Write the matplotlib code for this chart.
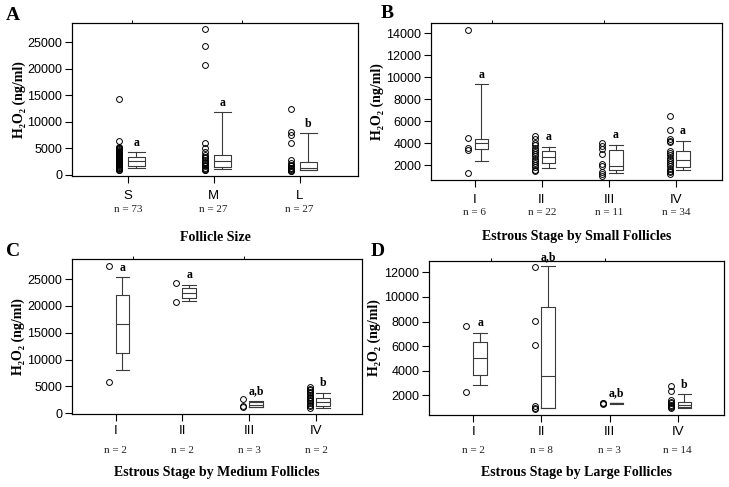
import numpy as np
import matplotlib.pyplot as plt

# ---- Panel A: by follicle size ----
a_cats = ['S', 'M', 'L']
a_n = ['n = 73', 'n = 27', 'n = 27']
a_sig = ['a', 'a', 'b']
# whislo, q1, median, q3, whishi
a_box = [[1400, 1750, 2600, 3450, 4250],
         [1150, 1450, 2600, 3700, 11800],
         [900, 950, 1300, 2400, 7800]]
a_pts = [[14300, 6450, 5300, 5150, 5000, 4850, 4700, 4550, 4400, 4250, 4100, 3950,
          3800, 3650, 3500, 3350, 3200, 3050, 2900, 2750, 2600, 2450, 2300, 2150,
          2000, 1850, 1700, 1550, 1400, 1250, 1100, 950, 850],
         [27500, 24200, 20600, 5950, 5000, 4400, 3800, 3450, 3100, 2800, 2500,
          2200, 1900, 1650, 1400, 1200, 1000, 900],
         [12500, 8100, 7600, 6100, 2800, 2300, 1800, 1600, 1400, 1250, 1100,
          950, 800, 700]]

# ---- Panel B: estrous stage, small follicles ----
b_cats = ['I', 'II', 'III', 'IV']
b_n = ['n = 6', 'n = 22', 'n = 11', 'n = 34']
b_sig = ['a', 'a', 'a', 'a']
b_box = [[2400, 3450, 4000, 4400, 9350],
         [1750, 2250, 2750, 3300, 3700],
         [1330, 1550, 1950, 3350, 3850],
         [1600, 1850, 2500, 3300, 4250]]
b_pts = [[14300, 4450, 3600, 3400, 1300],
         [4650, 4350, 4050, 3800, 3600, 3400, 3200, 3000, 2800, 2600, 2400,
          2200, 2000, 1800, 1600, 1500],
         [4000, 3750, 3500, 3000, 2100, 1900, 1400, 1200, 1050],
         [6450, 5250, 4400, 4250, 4100, 3300, 3100, 2900, 2700, 2500, 2300,
          2100, 1900, 1700, 1500, 1350, 1200]]

# ---- Panel C: estrous stage, medium follicles ----
c_cats = ['I', 'II', 'III', 'IV']
c_n = ['n = 2', 'n = 2', 'n = 3', 'n = 2']
c_sig = ['a', 'a', 'a,b', 'b']
c_box = [[8000, 11200, 16700, 22100, 25400],
         [20950, 21450, 22400, 23300, 23950],
         [1100, 1150, 1600, 2050, 2350],
         [950, 1400, 2050, 2750, 3850]]
c_pts = [[27500, 5900],
         [24250, 20650],
         [2700, 1350, 1100],
         [4900, 4600, 4300, 4000, 3700, 3400, 3100, 2800, 2500, 2200, 1900,
          1600, 1300, 1000]]

# ---- Panel D: estrous stage, large follicles ----
d_cats = ['I', 'II', 'III', 'IV']
d_n = ['n = 2', 'n = 8', 'n = 3', 'n = 14']
d_sig = ['a', 'a,b', 'a,b', 'b']
d_box = [[2850, 3650, 5000, 6300, 7100],
         [1000, 1000, 3600, 9150, 12500],
         [1330, 1340, 1360, 1380, 1400],
         [1000, 1020, 1200, 1430, 2100]]
d_pts = [[7650, 2300],
         [12450, 8050, 6100, 1150, 1000, 850],
         [1300, 1350, 1400],
         [2750, 2350, 1650, 1450, 1350, 1250, 1150, 1050, 950]]

serif = ['Liberation Serif', 'DejaVu Serif']
sans = ['Liberation Sans', 'DejaVu Sans']
plt.rcParams['font.family'] = sans

fig = plt.figure(figsize=(7.29, 4.87), dpi=100)

panels = [
    dict(rect=[0.0988, 0.6386, 0.3922, 0.3142], cats=a_cats, n=a_n, sig=a_sig,
         box=a_box, pts=a_pts, ylim=(-200, 28600), yticks=np.arange(0, 25001, 5000),
         xlab='Follicle Size', letter='A', lpos=(13, 16), pad=5, noff=33, xoff=61),
    dict(rect=[0.5912, 0.6304, 0.3992, 0.3224], cats=b_cats, n=b_n, sig=b_sig,
         box=b_box, pts=b_pts, ylim=(660, 14940), yticks=np.arange(2000, 14001, 2000),
         xlab='Estrous Stage by Small Follicles', letter='B', lpos=(387, 14), pad=5,
         noff=33, xoff=57),
    dict(rect=[0.0988, 0.1499, 0.3974, 0.3177], cats=c_cats, n=c_n, sig=c_sig,
         box=c_box, pts=c_pts, ylim=(-150, 28700), yticks=np.arange(0, 25001, 5000),
         xlab='Estrous Stage by Medium Follicles', letter='C', lpos=(13, 251), pad=3,
         noff=37, xoff=59),
    dict(rect=[0.5885, 0.1478, 0.4046, 0.3169], cats=d_cats, n=d_n, sig=d_sig,
         box=d_box, pts=d_pts, ylim=(400, 12950), yticks=np.arange(2000, 12001, 2000),
         xlab='Estrous Stage by Large Follicles', letter='D', lpos=(378, 251), pad=3,
         noff=35, xoff=57),
]

line_col = '#3a3a3a'
for p in panels:
    ax = fig.add_axes(p['rect'])
    k = len(p['cats'])
    x = np.arange(1, k + 1)

    stats = [dict(whislo=b[0], q1=b[1], med=b[2], q3=b[3], whishi=b[4], fliers=[])
             for b in p['box']]
    lp = dict(color=line_col, linewidth=0.8)
    ax.bxp(stats, positions=x + 0.1, widths=0.2, capwidths=0.2, showfliers=False,
           boxprops=lp, medianprops=lp, whiskerprops=lp, capprops=lp,
           manage_ticks=False)

    for xi, vals in zip(x, p['pts']):
        ax.plot(np.full(len(vals), xi - 0.1), vals, 'o', mfc='none', mec='black',
                ms=4.2, mew=0.7, clip_on=False)

    for xi, b, s in zip(x, p['box'], p['sig']):
        ax.annotate(s, (xi + 0.1, b[4]), xytext=(0, 2.5), textcoords='offset points',
                    ha='center', va='bottom', fontsize=8.5, fontweight='bold',
                    family=serif, annotation_clip=False)

    for xi, s in zip(x, p['n']):
        ax.annotate(s, (xi, 0), xycoords=('data', 'axes fraction'),
                    xytext=(0, -p['noff'] * 0.72), textcoords='offset points',
                    ha='center', va='center', fontsize=8, family=serif, color='#222222')

    ax.set_xlim(0.35, k + 0.68)
    ax.set_ylim(*p['ylim'])
    ax.set_xticks(x)
    ax.set_xticklabels(p['cats'], fontsize=9.5)
    ax.set_yticks(p['yticks'])
    ax.tick_params(axis='y', labelsize=9, length=5, width=0.8, pad=2)
    ax.tick_params(axis='x', length=5, width=0.8, pad=p['pad'])
    for sp in ax.spines.values():
        sp.set_linewidth(0.8)

    ax.text(-0.185, 0.5, 'H₂O₂ (ng/ml)', transform=ax.transAxes, rotation=90,
            ha='center', va='center', fontsize=10, fontweight='bold', family=serif)
    ax.annotate(p['xlab'], (0.5, 0), xycoords='axes fraction',
                xytext=(0, -p['xoff'] * 0.72), textcoords='offset points',
                ha='center', va='center', fontsize=10, fontweight='bold', family=serif)

    # faint leftover ticks on the top frame
    ax2 = ax.twiny()
    ax2.set_xlim(0, 1)
    ax2.set_xticks([0.21, 0.595])
    ax2.set_xticklabels([])
    ax2.tick_params(length=2, width=0.7)

    fig.text(p['lpos'][0] / 729, 1 - p['lpos'][1] / 487, p['letter'],
             ha='center', va='center', fontsize=14, fontweight='bold', family=serif)

fig.savefig('out.png', dpi=100)
